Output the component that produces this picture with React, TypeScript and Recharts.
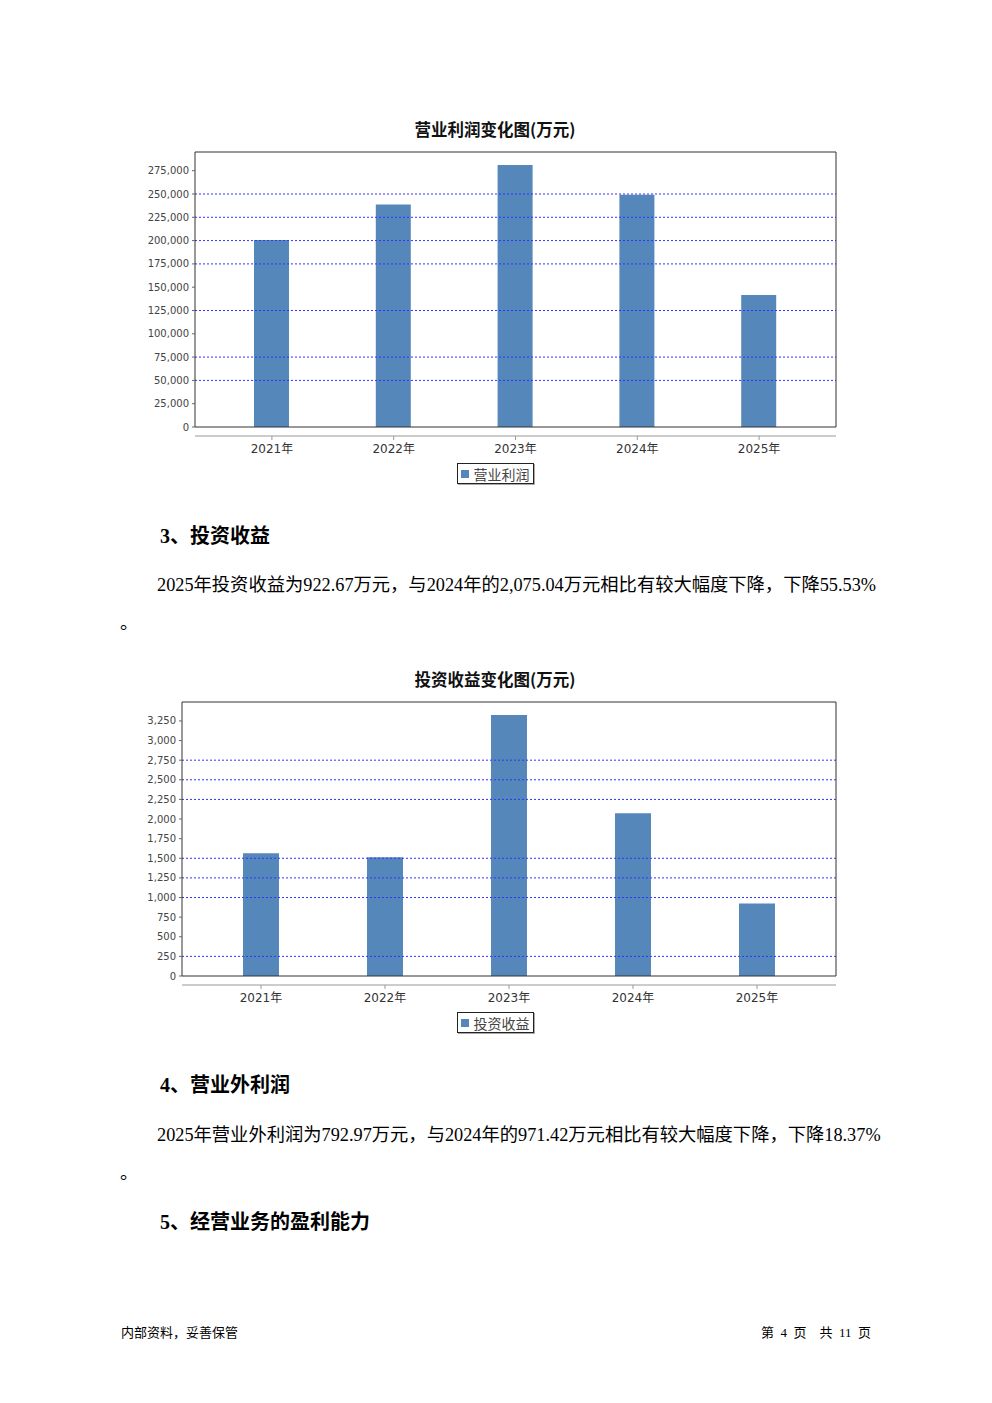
import React from "react";
import { ComposedChart, Bar, Line, XAxis, YAxis, ReferenceLine, Legend } from "recharts";

const years = ["2021年", "2022年", "2023年", "2024年", "2025年"];

const operatingProfit = [200500, 238800, 281000, 249200, 141500];
const profitTicks = [0, 25000, 50000, 75000, 100000, 125000, 150000, 175000, 200000, 225000, 250000, 275000];
const profitGrid = [250000, 225000, 200000, 175000, 125000, 75000, 50000];

const investIncome = [1563, 1512, 3325, 2075.04, 922.67];
const investTicks = [0, 250, 500, 750, 1000, 1250, 1500, 1750, 2000, 2250, 2500, 2750, 3000, 3250];
const investGrid = [2750, 2500, 2250, 1500, 1250, 1000, 250];

const BAR = "#5587bb";
const FRAME = "#333";
const TEXT_FONT = "'Liberation Serif', 'Noto Sans CJK SC', serif";
const CJK = "'Noto Sans CJK SC', sans-serif";

function LegendBox({ name }: { name: string }) {
  return (
    <div style={{ display: "flex", justifyContent: "center", paddingTop: 3 }}>
      <div
        style={{
          display: "flex",
          alignItems: "center",
          height: 19,
          padding: "0 3px",
          border: "1px solid #222",
          boxShadow: "1px 1px 0 #aaa",
          fontFamily: CJK,
          fontSize: 14,
          color: "#444",
        }}
      >
        <span style={{ width: 8, height: 8, background: BAR, marginRight: 5 }} />
        <span>{name}</span>
      </div>
    </div>
  );
}

function YearChart({
  top,
  title,
  name,
  values,
  ticks,
  grid,
  axisWidth,
  plotHeight,
  pad,
  barSize,
}: {
  top: number;
  title: string;
  name: string;
  values: number[];
  ticks: number[];
  grid: number[];
  axisWidth: number;
  plotHeight: number;
  pad: number;
  barSize: number;
}) {
  const data = years.map((year, i) => ({ year, value: values[i] }));
  const height = 7 + plotHeight + 9 + 24 + 24;
  return (
    <>
      <div
        style={{
          position: "absolute",
          left: 140,
          width: 710,
          top: top - 26,
          height: 20,
          lineHeight: "20px",
          textAlign: "center",
          fontFamily: CJK,
          fontWeight: 700,
          fontSize: 16.5,
          color: "#111",
        }}
      >
        {title}
      </div>
      <div style={{ position: "absolute", left: 140, top }}>
        <ComposedChart width={710} height={height} data={data} margin={{ top: 6, right: 13, bottom: 0, left: 0 }}>
          {/* plot frame: top and right edges */}
          <XAxis xAxisId="top" orientation="top" dataKey="year" height={1} tick={false} tickLine={false} axisLine={{ stroke: FRAME }} />
          <YAxis yAxisId="right" orientation="right" width={1} domain={[0, (m: number) => m * 1.05]} tick={false} tickLine={false} axisLine={{ stroke: FRAME }} />
          <YAxis
            yAxisId="left"
            width={axisWidth}
            ticks={ticks}
            interval={0}
            domain={[0, (m: number) => m * 1.05]}
            tickFormatter={(v: number) => v.toLocaleString("en-US")}
            tickSize={3}
            tickMargin={3}
            tick={{ fontFamily: "'DejaVu Sans', sans-serif", fontSize: 10, fill: "#444" }}
            tickLine={{ stroke: "#666" }}
            axisLine={{ stroke: FRAME }}
          />
          {/* bottom edge of the frame, then the category axis below it */}
          <XAxis xAxisId="frame" dataKey="year" height={9} tick={false} tickLine={false} axisLine={{ stroke: FRAME }} />
          <XAxis
            xAxisId="main"
            dataKey="year"
            height={24}
            padding={{ left: pad, right: pad }}
            tickSize={4}
            tickMargin={4}
            tick={{ fontFamily: "'DejaVu Sans', 'Noto Sans CJK SC', sans-serif", fontSize: 12, fill: "#333" }}
            tickLine={{ stroke: "#999" }}
            axisLine={{ stroke: "#999" }}
          />
          {grid.map((g) => (
            <ReferenceLine key={g} xAxisId="main" yAxisId="left" y={g} stroke="#3333ff" strokeDasharray="2 2" />
          ))}
          <Bar xAxisId="main" yAxisId="left" dataKey="value" name={name} fill={BAR} barSize={barSize} isAnimationActive={false} />
          <Line
            xAxisId="top"
            yAxisId="right"
            dataKey="value"
            stroke="none"
            dot={false}
            activeDot={false}
            legendType="none"
            isAnimationActive={false}
          />
          <Legend wrapperStyle={{ left: 0, width: 710 }} content={() => <LegendBox name={name} />} />
        </ComposedChart>
      </div>
    </>
  );
}

function Heading({ top, children }: { top: number; children: React.ReactNode }) {
  return (
    <div
      style={{
        position: "absolute",
        left: 160,
        top: top - 12,
        height: 24,
        lineHeight: "24px",
        fontFamily: TEXT_FONT,
        fontWeight: 700,
        fontSize: 20,
        color: "#000",
        whiteSpace: "nowrap",
      }}
    >
      {children}
    </div>
  );
}

function Para({ top, text }: { top: number; text: string }) {
  const line = {
    position: "absolute" as const,
    height: 24,
    lineHeight: "24px",
    fontFamily: TEXT_FONT,
    fontSize: 18.3,
    color: "#000",
    whiteSpace: "nowrap" as const,
  };
  return (
    <>
      <div style={{ ...line, left: 157, top: top - 12 }}>{text}</div>
      <div style={{ ...line, left: 120, top: top + 26 }}>。</div>
    </>
  );
}

export default function App() {
  return (
    <div style={{ position: "absolute", left: 0, top: 0, width: 992, height: 1403, background: "#fff" }}>
      <YearChart
        top={145}
        title="营业利润变化图(万元)"
        name="营业利润"
        values={operatingProfit}
        ticks={profitTicks}
        grid={profitGrid}
        axisWidth={55}
        plotHeight={275}
        pad={16}
        barSize={35}
      />
      <Heading top={536}>3、投资收益</Heading>
      <Para top={585} text="2025年投资收益为922.67万元，与2024年的2,075.04万元相比有较大幅度下降，下降55.53%" />
      <YearChart
        top={695}
        title="投资收益变化图(万元)"
        name="投资收益"
        values={investIncome}
        ticks={investTicks}
        grid={investGrid}
        axisWidth={42}
        plotHeight={274}
        pad={17}
        barSize={36}
      />
      <Heading top={1085}>4、营业外利润</Heading>
      <Para top={1135} text="2025年营业外利润为792.97万元，与2024年的971.42万元相比有较大幅度下降，下降18.37%" />
      <Heading top={1222}>5、经营业务的盈利能力</Heading>
      <div
        style={{
          position: "absolute",
          left: 121,
          top: 1325,
          lineHeight: "16px",
          fontFamily: TEXT_FONT,
          fontSize: 13,
          whiteSpace: "nowrap",
        }}
      >
        内部资料，妥善保管
      </div>
      <div
        style={{
          position: "absolute",
          left: 700,
          width: 171,
          top: 1325,
          lineHeight: "16px",
          textAlign: "right",
          fontFamily: TEXT_FONT,
          fontSize: 13,
          whiteSpace: "pre",
        }}
      >
        {"第  4  页    共  11  页"}
      </div>
    </div>
  );
}
